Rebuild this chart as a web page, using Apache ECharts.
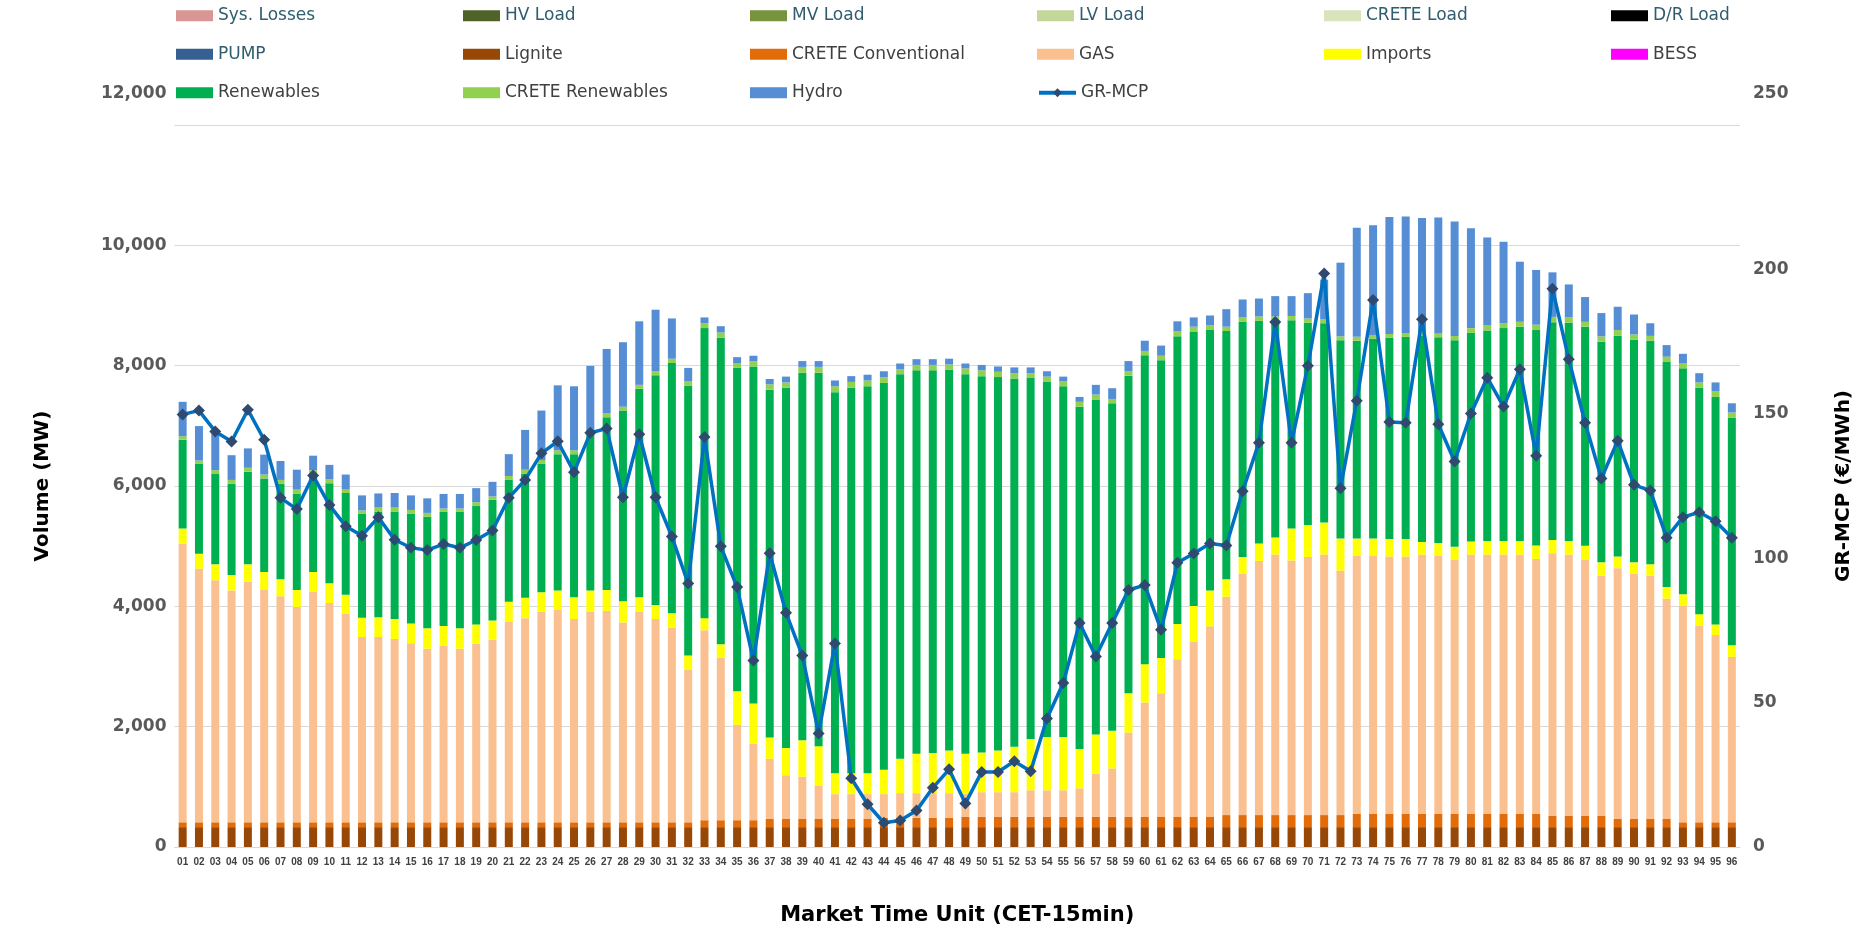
<!DOCTYPE html>
<html>
<head>
<meta charset="utf-8">
<title>GR Market Results</title>
<script src="https://cdn.jsdelivr.net/npm/echarts@6/dist/echarts.min.js"></script>
<style>
  html, body { margin: 0; padding: 0; background: #fff; }
  #container { width: 1872px; height: 932px; }
</style>
</head>
<body>
<div id="container"></div>
<script>
// market time units 01..96
var mtu = [];
for (var i = 1; i <= 96; i++) mtu.push(i < 10 ? '0' + i : '' + i);

// MW
var lignite = [
  330, 330, 330, 330, 330, 330, 330, 330, 330, 330, 330, 330, 330, 330, 330, 330,
  330, 330, 330, 330, 330, 330, 330, 330, 330, 330, 330, 330, 330, 330, 330, 330,
  330, 330, 330, 330, 330, 330, 330, 330, 330, 330, 330, 330, 330, 330, 330, 330,
  330, 330, 330, 330, 330, 330, 330, 330, 330, 330, 330, 330, 330, 330, 330, 330,
  330, 330, 330, 330, 330, 330, 330, 330, 330, 330, 330, 330, 330, 330, 330, 330,
  330, 330, 330, 330, 330, 330, 330, 330, 330, 330, 330, 330, 330, 330, 330, 330
];
var creteConv = [
  80, 80, 80, 80, 80, 80, 80, 80, 80, 80, 80, 80, 80, 80, 80, 80,
  80, 80, 80, 80, 80, 80, 80, 80, 80, 80, 80, 80, 80, 80, 80, 80,
  115, 115, 115, 115, 135, 135, 135, 135, 135, 135, 135, 155, 155, 155, 155, 155,
  170, 170, 170, 170, 170, 170, 170, 170, 170, 170, 170, 170, 170, 170, 170, 170,
  200, 200, 200, 200, 200, 200, 200, 200, 225, 225, 225, 225, 225, 225, 225, 225,
  225, 225, 225, 225, 185, 185, 185, 185, 135, 135, 135, 135, 80, 80, 80, 80
];
var gas = [
  4628, 4217, 4023, 3854, 3999, 3870, 3757, 3580, 3830, 3644,
  3467, 3080, 3080, 3048, 2975, 2887, 2935, 2887, 2967, 3032,
  3338, 3394, 3499, 3539, 3378, 3499, 3515, 3322, 3499, 3378,
  3233, 2532, 3158, 2706, 1586, 1272, 1002, 728, 704, 559,
  414, 414, 414, 394, 410, 410, 410, 410, 387, 411,
  411, 411, 443, 443, 443, 475, 717, 806, 1402, 1902,
  2055, 2619, 2917, 3167, 3629, 4008, 4225, 4330, 4233, 4290,
  4330, 4064, 4281, 4281, 4273, 4273, 4305, 4289, 4225, 4305,
  4305, 4305, 4305, 4233, 4369, 4345, 4265, 3991, 4170, 4073,
  4041, 3662, 3604, 3273, 3112, 2750
];
var imports = [
  257, 249, 266, 258, 290, 290, 282, 282, 330, 331,
  314, 322, 330, 330, 331, 338, 330, 338, 323, 322,
  330, 339, 323, 315, 363, 355, 347, 354, 242, 234,
  242, 242, 201, 218, 556, 669, 355, 451, 604, 652,
  346, 346, 346, 403, 572, 653, 669, 709, 661, 661,
  693, 757, 854, 887, 887, 653, 653, 628, 653, 637,
  588, 589, 589, 597, 290, 282, 291, 282, 532, 532,
  532, 532, 290, 290, 290, 290, 210, 210, 209, 218,
  226, 226, 226, 225, 218, 226, 225, 225, 193, 193,
  193, 193, 185, 186, 178, 193
];
var renewables = [
  1475, 1491, 1499, 1515, 1539, 1556, 1588, 1604, 1636, 1660,
  1693, 1725, 1758, 1790, 1821, 1854, 1894, 1934, 1966, 2007,
  2023, 2063, 2135, 2265, 2378, 2587, 2869, 3168, 3466, 3820,
  4159, 4481, 4820, 5094, 5376, 5601, 5779, 5989, 6110, 6207,
  6335, 6408, 6432, 6431, 6392, 6375, 6359, 6327, 6311, 6254,
  6206, 6118, 5997, 5908, 5827, 5690, 5569, 5441, 5279, 5134,
  4949, 4779, 4562, 4336, 4127, 3909, 3699, 3603, 3458, 3361,
  3313, 3297, 3289, 3321, 3345, 3361, 3425, 3417, 3434, 3466,
  3498, 3538, 3562, 3579, 3619, 3627, 3643, 3668, 3667, 3700,
  3716, 3740, 3756, 3764, 3780, 3780
];
var creteRen = [
  57, 57, 65, 64, 65, 64, 64, 64, 57, 64,
  56, 57, 64, 64, 65, 64, 57, 57, 65, 56,
  65, 65, 65, 64, 64, 64, 65, 64, 64, 65,
  72, 73, 81, 89, 81, 89, 88, 88, 96, 96,
  97, 97, 97, 97, 80, 89, 89, 89, 96, 97,
  89, 89, 81, 80, 81, 81, 81, 72, 73, 72,
  73, 81, 80, 73, 72, 73, 73, 73, 73, 72,
  64, 64, 64, 64, 64, 65, 65, 65, 72, 80,
  89, 81, 81, 89, 89, 89, 81, 88, 97, 88,
  80, 89, 81, 88, 96, 89
];
var hydro = [
  572, 572, 604, 411, 322, 331, 315, 331, 241, 242,
  250, 250, 234, 242, 242, 242, 242, 242, 233, 242,
  363, 661, 822, 1080, 1064, 1081, 1072, 1072, 1056, 1023,
  669, 225, 97, 104, 97, 89, 89, 97, 97, 97,
  97, 96, 96, 97, 97, 96, 96, 96, 81, 89,
  88, 96, 96, 89, 80, 81, 161, 178, 169, 170,
  169, 169, 154, 161, 291, 298, 298, 338, 330, 420,
  661, 1225, 1814, 1822, 1943, 1934, 1894, 1926, 1902, 1661,
  1458, 1354, 999, 910, 741, 548, 411, 387, 387, 331,
  210, 193, 161, 154, 145, 153
];
// €/MWh
var grMcp = [
  149.8, 151.1, 143.9, 140.4, 151.4, 141.0, 120.9, 117.0, 128.6, 118.4,
  111.1, 107.8, 114.2, 106.4, 103.6, 102.8, 104.9, 103.6, 106.3, 109.6,
  120.9, 127.1, 136.3, 140.5, 129.8, 143.4, 144.9, 121.1, 142.9, 121.1,
  107.5, 91.2, 142.0, 104.1, 90.0, 64.6, 101.7, 81.1, 66.3, 39.3,
  70.5, 23.8, 14.8, 8.4, 9.2, 12.6, 20.5, 26.9, 15.1, 26.0,
  26.0, 29.7, 26.2, 44.5, 56.8, 77.6, 66.0, 77.6, 89.0, 90.7,
  75.2, 98.4, 101.6, 105.1, 104.4, 123.2, 140.0, 181.8, 140.0, 166.6,
  198.6, 124.2, 154.5, 189.4, 147.2, 146.9, 182.7, 146.4, 133.5, 150.1,
  162.5, 152.5, 165.4, 135.5, 193.3, 168.9, 146.9, 127.6, 140.7, 125.4,
  123.4, 107.1, 114.2, 115.9, 112.8, 107.1
];

// legend order (3 rows x 6 cols), colours and label colours
var legendNames = [
  'Sys. Losses', 'HV Load', 'MV Load', 'LV Load', 'CRETE Load', 'D/R Load',
  'PUMP', 'Lignite', 'CRETE Conventional', 'GAS', 'Imports', 'BESS',
  'Renewables', 'CRETE Renewables', 'Hydro', 'GR-MCP'
];
var colors = {
  'Sys. Losses': '#DA9694', 'HV Load': '#4F6228', 'MV Load': '#77933C',
  'LV Load': '#C4D79B', 'CRETE Load': '#D8E4BC', 'D/R Load': '#000000',
  'PUMP': '#366092', 'Lignite': '#974706', 'CRETE Conventional': '#E26B0A',
  'GAS': '#FAC090', 'Imports': '#FFFF00', 'BESS': '#FF00FF',
  'Renewables': '#00B050', 'CRETE Renewables': '#92D050', 'Hydro': '#558ED5'
};
var tealText = ['Sys. Losses', 'HV Load', 'MV Load', 'LV Load', 'CRETE Load', 'D/R Load', 'PUMP'];

var FONT = 'DejaVu Sans';
var dom = document.getElementById('container');
var myChart = echarts.init(dom, null, { renderer: 'canvas' });

// bar series in stacking order; empty ones only appear in the legend
var barData = {
  'Lignite': lignite,
  'CRETE Conventional': creteConv,
  'GAS': gas,
  'Imports': imports,
  'Renewables': renewables,
  'CRETE Renewables': creteRen,
  'Hydro': hydro
};
var barOrder = ['Lignite', 'CRETE Conventional', 'GAS', 'Imports', 'Renewables', 'CRETE Renewables', 'Hydro',
  'Sys. Losses', 'HV Load', 'MV Load', 'LV Load', 'CRETE Load', 'D/R Load', 'PUMP', 'BESS'];

var series = barOrder.map(function (name) {
  return {
    name: name,
    type: 'bar',
    stack: 'vol',
    barWidth: '49%',
    itemStyle: { color: colors[name] },
    data: barData[name] || []
  };
});
series.push({
  name: 'GR-MCP',
  type: 'line',
  yAxisIndex: 1,
  symbol: 'diamond',
  symbolSize: 12,
  z: 5,
  itemStyle: { color: '#2E4A70' },
  lineStyle: { color: '#0070C0', width: 3.5 },
  data: grMcp
});

var option = {
  animation: false,
  backgroundColor: '#ffffff',
  legend: {
    left: 176,
    top: 1.5,
    padding: 0,
    width: 1716,
    itemWidth: 37,
    itemHeight: 11,
    itemGap: 10,
    textStyle: { fontFamily: FONT, fontSize: 17, width: 235, lineHeight: 28.5, color: '#404040' },
    data: legendNames.map(function (n) {
      var item = {
        name: n,
        textStyle: { color: tealText.indexOf(n) >= 0 ? '#2F5D6E' : '#404040' }
      };
      if (n !== 'GR-MCP') item.icon = 'rect';
      else {
        item.lineStyle = { width: 4 };
        item.itemStyle = { color: '#2E4A70' };
      }
      return item;
    })
  },
  grid: { left: 174.5, right: 132, top: 125, bottom: 85, containLabel: false },
  xAxis: {
    type: 'category',
    data: mtu,
    name: 'Market Time Unit (CET-15min)',
    nameLocation: 'middle',
    nameGap: 58,
    nameTextStyle: { fontFamily: FONT, fontSize: 21, fontWeight: 'bold', color: '#000' },
    axisLine: { lineStyle: { color: '#D9D9D9', width: 1 } },
    axisTick: { show: false },
    axisLabel: { interval: 0, margin: 10, fontFamily: 'Liberation Sans', fontSize: 10, fontWeight: 'bold', color: '#404040' }
  },
  yAxis: [{
    type: 'value',
    min: 0,
    max: 12000,
    interval: 2000,
    name: 'Volume (MW)',
    nameLocation: 'middle',
    nameGap: 122,
    nameTextStyle: { fontFamily: FONT, fontSize: 20, fontWeight: 'bold', color: '#000' },
    splitLine: { lineStyle: { color: '#D9D9D9', width: 1 } },
    axisLine: { show: false },
    axisTick: { show: false },
    axisLabel: {
      margin: 8,
      fontFamily: FONT, fontSize: 17, fontWeight: 'bold', color: '#595959',
      formatter: function (v) {
        var s = v.toLocaleString('en-US');
        return v === 12000 ? '{up|' + s + '}' : s;
      },
      rich: { up: { fontFamily: FONT, fontSize: 17, fontWeight: 'bold', color: '#595959', padding: [0, 0, 62, 0] } }
    }
  }, {
    type: 'value',
    min: 0,
    max: 250,
    interval: 50,
    name: 'GR-MCP (€/MWh)',
    nameLocation: 'middle',
    nameGap: 94,
    nameTextStyle: { fontFamily: FONT, fontSize: 20, fontWeight: 'bold', color: '#000' },
    splitLine: { show: false },
    axisLine: { show: false },
    axisTick: { show: false },
    axisLabel: {
      margin: 13,
      fontFamily: FONT, fontSize: 17, fontWeight: 'bold', color: '#595959',
      formatter: function (v) {
        return v === 250 ? '{up|' + v + '}' : '' + v;
      },
      rich: { up: { fontFamily: FONT, fontSize: 17, fontWeight: 'bold', color: '#595959', padding: [0, 0, 62, 0] } }
    }
  }],
  series: series
};

myChart.setOption(option, true);
</script>
</body>
</html>
